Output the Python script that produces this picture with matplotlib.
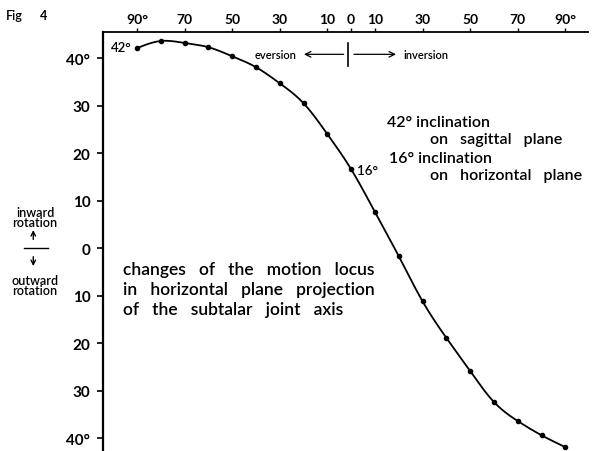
import numpy as np
import matplotlib
matplotlib.use("Agg")
import matplotlib.pyplot as plt

# data: motion (negative = eversion, positive = inversion), rotation angle
motion = [-90, -80, -70, -60, -50, -40, -30, -20, -10, 0,
          10, 20, 30, 40, 50, 60, 70, 80, 90]
rotation = [42.1, 43.6, 43.2, 42.3, 40.4, 38.1, 34.7, 30.5, 24.0, 16.6,
            7.6, -1.7, -11.2, -18.9, -25.9, -32.4, -36.4, -39.4, -41.9]
xtick_vals = [-90, -70, -50, -30, -10, 0, 10, 30, 50, 70, 90]
xtick_labels = ["90°", "70", "50", "30", "10", "0", "10", "30", "50", "70", "90°"]
ytick_vals = [40, 30, 20, 10, 0, -10, -20, -30, -40]
ytick_labels = ["40°", "30", "20", "10", "0", "10", "20", "30", "40°"]

plt.rcParams['font.family'] = ['Lato', 'DejaVu Sans']
W = 'semibold'

def natural_spline(x, y, n=400):
    x = np.asarray(x, float); y = np.asarray(y, float)
    k = len(x); h = np.diff(x)
    A = np.zeros((k, k)); b = np.zeros(k)
    A[0, 0] = A[-1, -1] = 1
    for i in range(1, k - 1):
        A[i, i - 1] = h[i - 1]; A[i, i] = 2 * (h[i - 1] + h[i]); A[i, i + 1] = h[i]
        b[i] = 3 * ((y[i + 1] - y[i]) / h[i] - (y[i] - y[i - 1]) / h[i - 1])
    c = np.linalg.solve(A, b)
    xs = np.linspace(x[0], x[-1], n); ys = np.empty_like(xs)
    for j, xv in enumerate(xs):
        i = min(np.searchsorted(x, xv, side='right') - 1, k - 2)
        dx = xv - x[i]
        bi = (y[i + 1] - y[i]) / h[i] - h[i] * (c[i + 1] + 2 * c[i]) / 3
        di = (c[i + 1] - c[i]) / (3 * h[i])
        ys[j] = y[i] + bi * dx + c[i] * dx ** 2 + di * dx ** 3
    return xs, ys

fig = plt.figure(figsize=(6.05, 4.52), dpi=100)
ax = fig.add_axes([0.170, 0.0, 0.802, 0.927])
ax.set_xlim(-104.3, 99.5)
ax.set_ylim(-42.7, 45.5)

xs, ys = natural_spline(motion, rotation)
ax.plot(xs, ys, color='black', lw=1.3)
ax.plot(motion, rotation, 'o', color='black', ms=3)

for s in ['right', 'bottom']:
    ax.spines[s].set_visible(False)
ax.spines['left'].set_linewidth(1.6)
ax.spines['top'].set_linewidth(1.3)
ax.xaxis.tick_top()
ax.set_xticks(xtick_vals)
ax.set_xticklabels(xtick_labels, fontsize=10, fontweight='bold')
ax.set_yticks(ytick_vals)
ax.set_yticklabels(ytick_labels, fontsize=11, fontweight='bold')
ax.tick_params(axis='x', length=3, width=1, pad=2)
ax.tick_params(axis='y', length=4, width=1.2, pad=5)

# annotations in data coords
ax.text(-92, 42.3, "42°", fontsize=9.5, fontweight=W, ha='right', va='center')
ax.text(2.5, 16.4, "16°", fontsize=9.5, fontweight=W, ha='left', va='center')

ax.text(-23, 40.8, "eversion", fontsize=8, fontweight=W, ha='right', va='center')
ax.annotate("", xy=(-21, 40.8), xytext=(-2, 40.8),
            arrowprops=dict(arrowstyle='->', color='black', lw=0.9))
ax.plot([-1.3, -1.3], [38.3, 43.2], color='black', lw=1.2)
ax.annotate("", xy=(20, 40.8), xytext=(0, 40.8),
            arrowprops=dict(arrowstyle='->', color='black', lw=0.9))
ax.text(22, 40.8, "inversion", fontsize=8, fontweight=W, ha='left', va='center')

ax.text(15, 26.6, "42° inclination", fontsize=11.5, fontweight=W, ha='left', va='center')
ax.text(33, 22.9, "on   sagittal   plane", fontsize=11.5, fontweight=W, ha='left', va='center')
ax.text(16, 19.0, "16° inclination", fontsize=11.5, fontweight=W, ha='left', va='center')
ax.text(33, 15.5, "on   horizontal   plane", fontsize=11.5, fontweight=W, ha='left', va='center')

ax.text(-96, -8.6, "changes   of   the   motion   locus\nin   horizontal   plane   projection\nof   the   subtalar   joint   axis",
        fontsize=12.5, fontweight=W, ha='left', va='center', linespacing=1.28)

fig.text(0.010, 0.965, "Fig", fontsize=9, fontweight=W, ha='left', va='center')
fig.text(0.066, 0.965, "4", fontsize=9, fontweight='bold', ha='left', va='center')

# left side legend
fig.text(0.058, 0.518, "inward\nrotation", fontsize=9, fontweight=W, ha='center', va='center', linespacing=0.8)
fig.text(0.058, 0.368, "outward\nrotation", fontsize=9, fontweight=W, ha='center', va='center', linespacing=0.8)
fig.patches.append(matplotlib.patches.FancyArrowPatch((0.055, 0.462), (0.055, 0.495), transform=fig.transFigure,
                   arrowstyle='->', mutation_scale=8, color='black', lw=1.0))
fig.patches.append(matplotlib.patches.FancyArrowPatch((0.055, 0.436), (0.055, 0.403), transform=fig.transFigure,
                   arrowstyle='->', mutation_scale=8, color='black', lw=1.0))
fig.lines.append(matplotlib.lines.Line2D([0.040, 0.080], [0.449, 0.449], transform=fig.transFigure, color='black', lw=1.0))

fig.savefig("out.png", dpi=100)
